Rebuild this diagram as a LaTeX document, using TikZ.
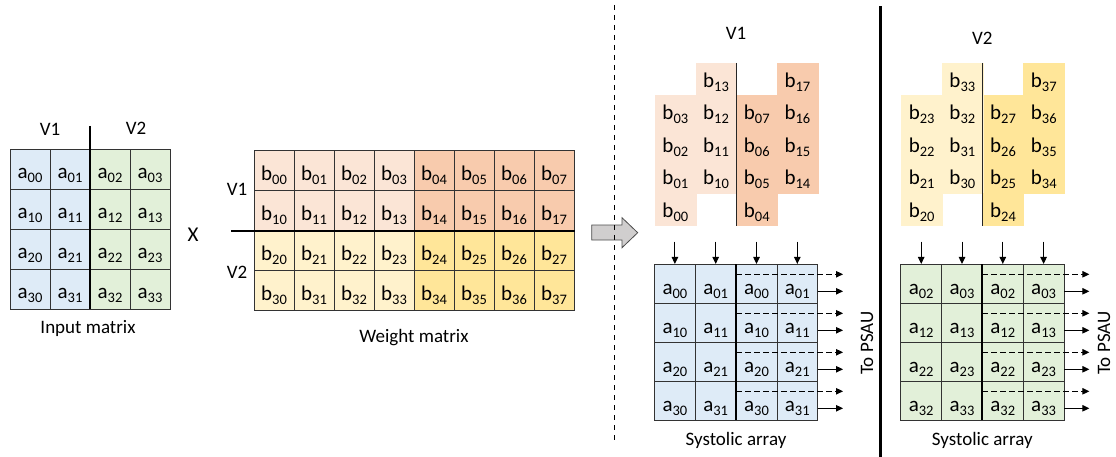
\documentclass[tikz,border=0pt]{standalone}
\usepackage{fontspec}
\setmainfont{Carlito}
\usetikzlibrary{arrows.meta}
\definecolor{inblue}{HTML}{DEEBF7}
\definecolor{ingreen}{HTML}{E2F0D9}
\definecolor{pchl}{HTML}{FBE5D6}
\definecolor{pchd}{HTML}{F8CBAD}
\definecolor{ylwl}{HTML}{FFF2CC}
\definecolor{ylwd}{HTML}{FFE699}
\definecolor{arrgray}{HTML}{D0CECE}
% matrix entry: letter with a lowered two-digit index
\newcommand{\ent}[2]{#1\raisebox{-4pt}{\fontsize{14.5}{14.5}\selectfont #2}}

\begin{document}
\begin{tikzpicture}[x=1pt,y=-1pt,
  font=\fontsize{19}{21}\selectfont,
  % baseline sits half the text height below the cell centre
  entry/.style={font=\fontsize{21}{23}\selectfont, inner sep=0pt, anchor=center,
    text depth=0pt},
  cell/.style={entry, draw=black!80, line width=0.7pt, minimum width=40pt,
    minimum height=40pt},
  scell/.style={entry, text height=22pt, draw=black!80, line width=0.7pt,
    minimum width=40.8pt, minimum height=39pt},
  bcell/.style={entry, text height=16.5pt, minimum width=40.7pt,
    minimum height=32.5pt},
  lbl/.style={inner sep=1pt, anchor=center},
  divider/.style={line width=2pt, black},
  feed/.style={line width=1pt, -{Triangle[length=7pt,width=6.5pt]}},
]
\useasboundingbox (0,0) rectangle (1116,457);

% ---------- input matrix ----------
\foreach \i in {0,...,3}{
  \foreach \j in {0,1}
    \node[cell, text height=19.5pt, fill=inblue] (in-\i-\j) at ({30+40*\j},{169+40*\i}) {\ent{a}{\i\j}};
  \foreach \j in {2,3}
    \node[cell, text height=19.5pt, fill=ingreen] (in-\i-\j) at ({30+40*\j},{169+40*\i}) {\ent{a}{\i\j}};
}
\draw[divider] (90,126) -- (90,309);
\node[lbl] (inv1) at (50,129) {V1};
\node[lbl] (inv2) at (136,128) {V2};
\node[lbl] (inname) at (88,328) {Input matrix};
\node[lbl, font=\fontsize{21}{23}\selectfont] (times) at (193,235) {X};

% ---------- weight matrix ----------
\foreach \i/\cl/\cd in {0/pchl/pchd,1/pchl/pchd,2/ylwl/ylwd,3/ylwl/ylwd}{
  \foreach \j in {0,...,3}
    \node[cell, text height=21pt, fill=\cl] (w-\i-\j) at ({274+40*\j},{170+40*\i}) {\ent{b}{\i\j}};
  \foreach \j in {4,...,7}
    \node[cell, text height=21pt, fill=\cd] (w-\i-\j) at ({274+40*\j},{170+40*\i}) {\ent{b}{\i\j}};
}
\draw[divider] (231,230.5) -- (574.5,230.5);
\node[lbl] (wv1) at (237,189) {V1};
\node[lbl] (wv2) at (237,272) {V2};
\node[lbl] (wname) at (414,338) {Weight matrix};

% ---------- transition arrow and separators ----------
\filldraw[fill=arrgray, draw=black!70, line width=0.8pt]
  (591.7,225) -- (622,225) -- (622,217.7) -- (637.7,232.7)
  -- (622,247.7) -- (622,240) -- (591.7,240) -- cycle;
\draw[line width=1.3pt, dash pattern=on 5pt off 5pt] (614.5,5) -- (614.5,442);
\draw[line width=3pt] (880.3,6.5) -- (880.3,457);

% ---------- per-variant weight feeds and systolic arrays ----------
\foreach \v/\dx/\ra/\rb/\ca/\cb/\cl/\cd/\cs/\hy/\px in
  {1/0/0/1/0/1/pchl/pchd/inblue/33/867,
   2/246.3/2/3/2/3/ylwl/ylwd/ingreen/38/1104}{
  % staggered weight columns
  \foreach \k [evaluate=\k as \lo using int(3-\k),
               evaluate=\k as \hi using int(7-\k)] in {0,...,3}{
    \node[bcell, fill=\cl, draw=\cl] (f\v-0-\k) at ({675.35+\dx},{111.75+32.5*\k}) {\ent{b}{\ra\lo}};
    \node[bcell, fill=\cl, draw=\cl] (f\v-1-\k) at ({716.05+\dx},{79.25+32.5*\k}) {\ent{b}{\rb\lo}};
    \node[bcell, fill=\cd, draw=\cd] (f\v-2-\k) at ({756.75+\dx},{111.75+32.5*\k}) {\ent{b}{\ra\hi}};
    \node[bcell, fill=\cd, draw=\cd] (f\v-3-\k) at ({797.45+\dx},{79.25+32.5*\k}) {\ent{b}{\rb\hi}};
  }
  \draw[line width=1.3pt, black!85] ({736.4+\dx},63) -- ({736.4+\dx},226);
  \node[lbl] (head\v) at ({736+\dx},\hy) {V\v};

  % systolic array cells
  \foreach \i [evaluate=\i as \cy using 283.8+39*\i] in {0,...,3}{
    \node[scell, fill=\cs] (s\v-\i-0) at ({674.9+\dx},\cy) {\ent{a}{\i\ca}};
    \node[scell, fill=\cs] (s\v-\i-1) at ({715.7+\dx},\cy) {\ent{a}{\i\cb}};
    \node[scell, fill=\cs] (s\v-\i-2) at ({756.5+\dx},\cy) {\ent{a}{\i\ca}};
    \node[scell, fill=\cs] (s\v-\i-3) at ({797.3+\dx},\cy) {\ent{a}{\i\cb}};
  }
  \draw[divider] ({736.1+\dx},264.3) -- ({736.1+\dx},420.3);

  % weights entering from the top
  \foreach \j in {0,...,3}{
    \coordinate (top\v-\j) at ({674.9+40.8*\j+\dx},241.5);
    \draw[feed] (top\v-\j) -- (s\v-0-\j.north);
  }

  % partial sums leaving to the right
  \foreach \i [evaluate=\i as \ty using 264.3+39*\i] in {0,...,3}{
    \coordinate (ds\v-\i) at ({736.1+\dx},{\ty+10});
    \coordinate (de\v-\i) at ({843+\dx},{\ty+10});
    \coordinate (ss\v-\i) at ({817.7+\dx},{\ty+27});
    \coordinate (se\v-\i) at ({843+\dx},{\ty+27});
    \draw[feed, dash pattern=on 5.5pt off 3.5pt] (ds\v-\i) -- (de\v-\i);
    \draw[feed] (ss\v-\i) -- (se\v-\i);
  }
  \node[lbl, rotate=90] (psau\v) at (\px,343) {To PSAU};
  \node[lbl] (sname\v) at ({736+\dx},440) {Systolic array};
}
\end{tikzpicture}
\end{document}
